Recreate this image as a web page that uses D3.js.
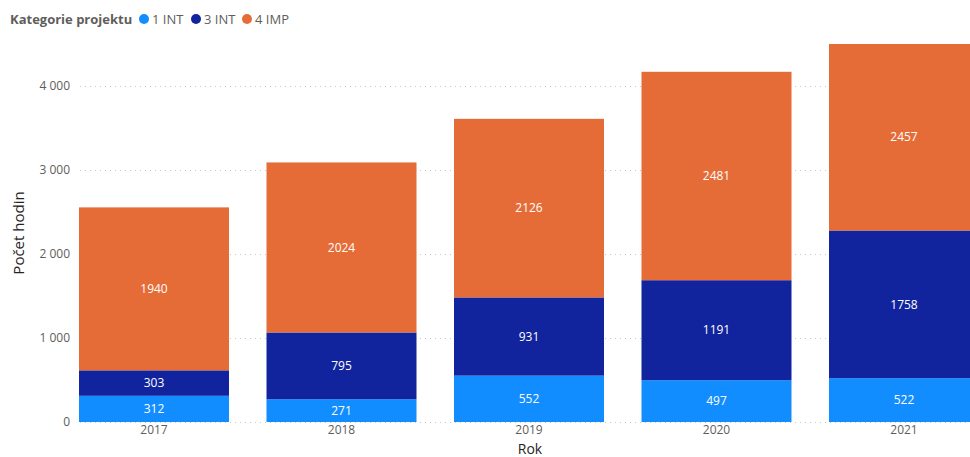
<!DOCTYPE html>
<html>
<head>
<meta charset="utf-8">
<script src="https://cdn.jsdelivr.net/npm/d3@7/dist/d3.min.js"></script>
<style>
  html, body { margin: 0; padding: 0; background: #fff; }
  svg { display: block; font-family: "Segoe UI", "Open Sans", "Liberation Sans", sans-serif; }
</style>
</head>
<body>
<svg id="chart" width="970" height="457"></svg>
<script>
// Hours per project category and year
const years = ["2017", "2018", "2019", "2020", "2021"];
const seriesNames = ["1 INT", "3 INT", "4 IMP"];
const int1 = [312, 271, 552, 497, 522];
const int3 = [303, 795, 931, 1191, 1758];
const imp4 = [1940, 2024, 2126, 2481, 2457];
const yTicks = [0, 1000, 2000, 3000, 4000];
const colors = ["#118DFF", "#12239E", "#E66C37"];

const rows = years.map((y, i) => ({ year: y, "1 INT": int1[i], "3 INT": int3[i], "4 IMP": imp4[i] }));
const stacked = d3.stack().keys(seriesNames)(rows);

const svg = d3.select("#chart");
const plot = { left: 60.25, right: 997.75, top: 44, bottom: 422 };

const x = d3.scaleBand().domain(years)
  .range([plot.left, plot.right]).paddingInner(0.2).paddingOuter(0.1);
const y = d3.scaleLinear().domain([0, 4500]).range([plot.bottom, plot.top]);

// clip to plot area
svg.append("defs").append("clipPath").attr("id", "plotClip")
  .append("rect").attr("x", 70).attr("y", plot.top).attr("width", 970).attr("height", plot.bottom - plot.top + 1);

// gridlines
svg.append("g")
  .selectAll("line").data(yTicks).join("line")
  .attr("x1", 80).attr("x2", 970)
  .attr("y1", d => y(d) + 0.5).attr("y2", d => y(d) + 0.5)
  .attr("stroke", "#C8C6C4").attr("stroke-width", 1)
  .attr("stroke-dasharray", "1,4");

// y axis
const yAxis = d3.axisLeft(y).tickValues(yTicks).tickSize(0).tickPadding(0)
  .tickFormat(d => d === 0 ? "0" : d3.format(",")(d).replace(/,/g, " "));
const gy = svg.append("g").attr("transform", "translate(70,0)").call(yAxis);
gy.select(".domain").remove();
gy.selectAll("text").attr("fill", "#605E5C").style("font-size", "12px")
  .style("font-family", "\"Segoe UI\", \"Open Sans\", \"Liberation Sans\", sans-serif");

// x axis
const xAxis = d3.axisBottom(x).tickSize(0).tickPadding(0);
const gx = svg.append("g").attr("transform", "translate(0,425)").call(xAxis);
gx.select(".domain").remove();
gx.selectAll("text").attr("fill", "#605E5C").style("font-size", "12px")
  .attr("dy", "0.71em")
  .style("font-family", "\"Segoe UI\", \"Open Sans\", \"Liberation Sans\", sans-serif");

// bars
const barsG = svg.append("g").attr("clip-path", "url(#plotClip)");
stacked.forEach((layer, li) => {
  barsG.append("g").attr("fill", colors[li])
    .selectAll("rect").data(layer).join("rect")
    .attr("x", d => x(d.data.year))
    .attr("width", x.bandwidth())
    .attr("y", d => y(d[1]))
    .attr("height", d => y(d[0]) - y(d[1]));
});

// value labels, centred in the visible part of each segment
const labelsG = svg.append("g");
stacked.forEach((layer, li) => {
  labelsG.selectAll(null).data(layer).join("text")
    .attr("x", d => x(d.data.year) + x.bandwidth() / 2)
    .attr("y", d => (Math.min(y(d[0]), plot.bottom) + Math.max(y(d[1]), plot.top)) / 2)
    .attr("dy", "0.35em")
    .attr("text-anchor", "middle")
    .attr("fill", "#FFFFFF")
    .style("font-size", "12px")
    .text(d => d.data[seriesNames[li]]);
});

// axis titles
svg.append("text")
  .attr("transform", "translate(24,233) rotate(-90)")
  .attr("text-anchor", "middle")
  .attr("fill", "#252423")
  .style("font-size", "15px")
  .text("Počet hodin");

svg.append("text")
  .attr("x", 530).attr("y", 449)
  .attr("dy", "0.35em")
  .attr("text-anchor", "middle")
  .attr("fill", "#252423")
  .style("font-size", "14px")
  .text("Rok");

// legend
const legend = svg.append("g").attr("transform", "translate(10,19)");
legend.append("text")
  .attr("x", 0).attr("y", 0).attr("dy", "0.35em")
  .attr("fill", "#605E5C")
  .style("font-size", "13px").style("font-weight", "bold")
  .text("Kategorie projektu");
const legendX = [144, 196, 247];
seriesNames.forEach((name, i) => {
  const g = legend.append("g").attr("transform", `translate(${legendX[i] - 10},0)`);
  g.append("circle").attr("cx", 0).attr("cy", 0).attr("r", 5).attr("fill", colors[i]);
  g.append("text").attr("x", 8).attr("y", 0).attr("dy", "0.35em")
    .attr("fill", "#605E5C").style("font-size", "13px").text(name);
});
</script>
</body>
</html>
